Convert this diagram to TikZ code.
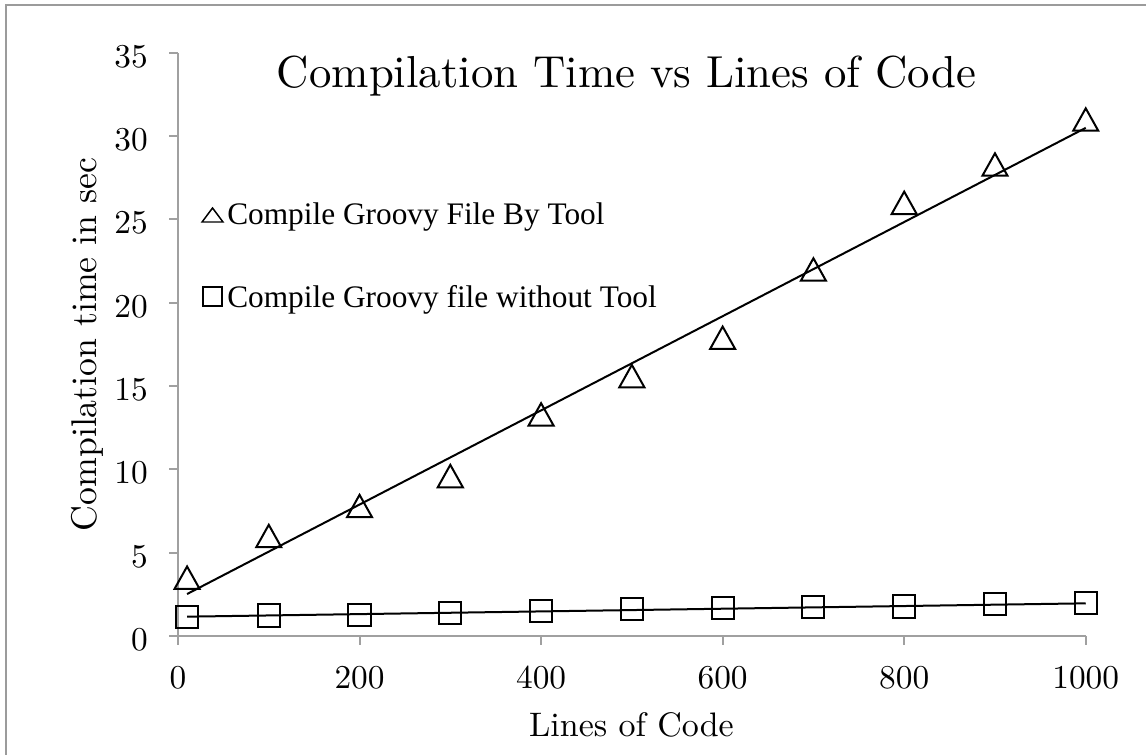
\documentclass[tikz,border=0pt]{standalone}
\usepackage{fontspec}
\setmainfont{lmroman10-regular.otf}
\newfontfamily\legendfont{Liberation Serif}
\definecolor{axisgray}{RGB}{160,160,160}
\definecolor{framegray}{RGB}{155,155,155}
\tikzset{
    axis/.style={axisgray, line width=1.5pt},
    ticklabel/.style={inner sep=0pt, font=\fontsize{25}{30}\selectfont},
    axislabel/.style={inner sep=0pt, font=\fontsize{25.5}{30}\selectfont},
    legendtext/.style={inner sep=0pt, anchor=base west, font=\legendfont\fontsize{23.5}{28}\selectfont},
    trend/.style={black, line width=1.5pt},
    trimark/.pic={\draw[line width=1.5pt] (-9.4pt,-8.4pt) -- (9.4pt,-8.4pt) -- (0,8.4pt) -- cycle;},
    sqmark/.pic={\draw[line width=1.5pt] (-8.3pt,-8.3pt) rectangle (8.3pt,8.3pt);},
}
\begin{document}
\begin{tikzpicture}[x=0.6808pt, y=12.495pt]
    \useasboundingbox (-133.5pt,-89.25pt) rectangle (726pt,477pt);
    \draw[framegray, line width=2pt] (-129pt,-89.25pt) -- (-129pt,473.25pt) -- (726pt,473.25pt);

    % axes and ticks
    \draw[axis] (0,35) -- (0,0) -- (1000,0);
    \foreach \y in {0,5,...,35} {
        \draw[axis] (0,\y) -- ++(-6.75pt,0);
        \node[ticklabel, anchor=east] (ytick\y) at ([xshift=-22.5pt, yshift=-2.8pt]0,\y) {\y};
    }
    \foreach \x in {0,200,...,1000} {
        \draw[axis] (\x,0) -- ++(0,-6.75pt);
        \node[ticklabel] (xtick\x) at ([yshift=-31.1pt]\x,0) {\x};
    }

    \node[inner sep=0pt, anchor=base, font=\fontsize{33.6}{40}\selectfont] (title) at (336.4pt,411pt) {Compilation Time vs Lines of Code};
    \node[axislabel, anchor=base] (xlabel) at (340.1pt,-75.75pt) {Lines of Code};
    \node[axislabel, anchor=base, rotate=90, font=\fontsize{26.8}{30}\selectfont] (ylabel) at (-61.1pt,218.6pt) {Compilation time in sec};

    % legend
    \draw[line width=1.1pt] (18.05pt,310.5pt) -- (33.75pt,310.5pt) -- (25.9pt,321pt) -- cycle;
    \node[legendtext] (legtool) at (36.75pt,308.25pt) {Compile Groovy File By Tool};
    \draw[line width=1.3pt] (18.8pt,247.5pt) rectangle (33pt,261.7pt);
    \node[legendtext] (legplain) at (36.75pt,246pt) {Compile Groovy file without Tool};

    % with tool
    \foreach \x/\y in {10/3.5, 100/6, 200/7.8, 300/9.6, 400/13.3, 500/15.6, 600/17.9, 700/22, 800/26, 900/28.3, 1000/31}
        \pic at (\x,\y) {trimark};
    \coordinate (toolstart) at (10,2.52);
    \coordinate (toolend) at (1000,30.5);
    \draw[trend] (toolstart) -- (toolend);

    % without tool
    \foreach \x/\y in {10/1.15, 100/1.23, 200/1.25, 300/1.38, 400/1.5, 500/1.6, 600/1.68, 700/1.75, 800/1.77, 900/1.9, 1000/1.98}
        \pic at (\x,\y) {sqmark};
    \coordinate (plainstart) at (10,1.16);
    \coordinate (plainend) at (1000,1.96);
    \draw[trend] (plainstart) -- (plainend);
\end{tikzpicture}
\end{document}
